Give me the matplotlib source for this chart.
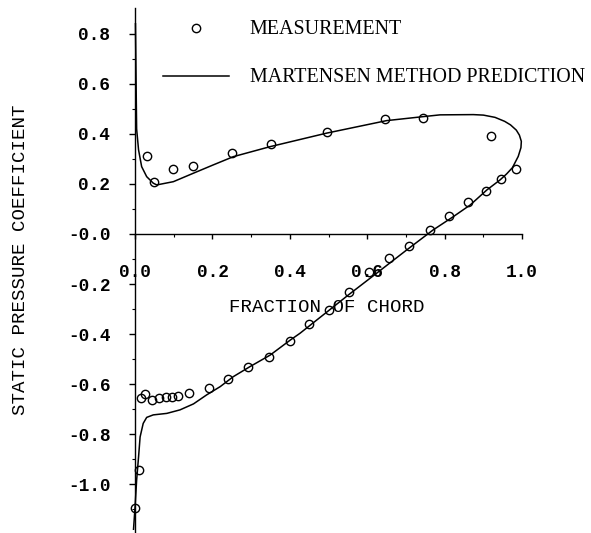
"""Static pressure coefficient vs fraction of chord, measurement and Martensen prediction."""

import numpy as np
import matplotlib
matplotlib.use("Agg")
import matplotlib.pyplot as plt
from matplotlib.ticker import FixedLocator

meas_x = [0.030, 0.049, 0.097, 0.149, 0.251, 0.351, 0.497, 0.647, 0.745, 0.919,
          0.000, 0.011, 0.016, 0.026, 0.043, 0.062, 0.080, 0.096, 0.112, 0.140,
          0.192, 0.239, 0.293, 0.345, 0.399, 0.450, 0.502, 0.554, 0.605, 0.657,
          0.708, 0.762, 0.810, 0.859, 0.907, 0.946, 0.984]
meas_y = [0.312, 0.209, 0.260, 0.272, 0.323, 0.359, 0.408, 0.460, 0.463, 0.392,
          -1.097, -0.944, -0.655, -0.640, -0.663, -0.655, -0.652, -0.650, -0.648, -0.637,
          -0.617, -0.581, -0.533, -0.490, -0.426, -0.360, -0.304, -0.233, -0.153, -0.097,
          -0.047, 0.016, 0.072, 0.129, 0.173, 0.220, 0.259]

# Martensen prediction, one path: upper surface out to the trailing edge, lower surface back
pred_x = [0.001, 0.002, 0.003, 0.004, 0.009, 0.017, 0.030, 0.047, 0.056, 0.099,
          0.151, 0.202, 0.254, 0.349, 0.495, 0.650, 0.745, 0.788, 0.874, 0.900,
          0.930, 0.955, 0.970, 0.985, 0.993, 0.998, 0.997, 0.990, 0.975, 0.960,
          0.943, 0.909, 0.866, 0.822, 0.770, 0.700, 0.624, 0.550, 0.502, 0.426,
          0.401, 0.349, 0.297, 0.254, 0.220, 0.185, 0.151, 0.116, 0.082, 0.047,
          0.030, 0.021, 0.013, 0.009, 0.004, 0.000, -0.004]
pred_y = [0.840, 0.700, 0.550, 0.420, 0.336, 0.269, 0.229, 0.203, 0.196, 0.209,
          0.243, 0.276, 0.309, 0.349, 0.403, 0.453, 0.469, 0.476, 0.477, 0.475,
          0.466, 0.450, 0.436, 0.415, 0.395, 0.370, 0.345, 0.310, 0.265, 0.240,
          0.216, 0.176, 0.116, 0.069, 0.016, -0.066, -0.157, -0.245, -0.304, -0.397,
          -0.424, -0.484, -0.530, -0.570, -0.610, -0.643, -0.679, -0.703, -0.717, -0.723,
          -0.733, -0.757, -0.811, -0.891, -0.984, -1.090, -1.180]

x_ticks = [0.0, 0.2, 0.4, 0.6, 0.8, 1.0]
x_tick_labels = ["0.0", "0.2", "0.4", "0.6", "0.8", "1.0"]
y_ticks = [0.8, 0.6, 0.4, 0.2, 0.0, -0.2, -0.4, -0.6, -0.8, -1.0]
y_tick_labels = ["0.8", "0.6", "0.4", "0.2", "-0.0", "-0.2", "-0.4", "-0.6", "-0.8", "-1.0"]

mono = "Liberation Mono"
serif = "Liberation Serif"

fig = plt.figure(figsize=(5.91, 5.33), dpi=100)
ax = fig.add_axes([0, 0, 1, 1])
ax.set_xlim(-0.349, 1.178)
ax.set_ylim(-1.195, 0.935)
ax.patch.set_visible(False)

ax.plot(meas_x, meas_y, linestyle="none", marker="o", ms=6, mfc="none",
        mec="black", mew=1.0, label="MEASUREMENT", zorder=3)
ax.plot(pred_x, pred_y, color="black", lw=1.1,
        label="MARTENSEN METHOD PREDICTION", zorder=2)

# axes crossing at the origin
for side in ["top", "right"]:
    ax.spines[side].set_visible(False)
ax.spines["left"].set_position(("data", 0))
ax.spines["bottom"].set_position(("data", 0))
ax.spines["left"].set_bounds(-1.19, 0.905)
ax.spines["bottom"].set_bounds(0.0, 1.0)
ax.spines["left"].set_linewidth(1.0)
ax.spines["bottom"].set_linewidth(1.0)

ax.set_xticks(x_ticks)
ax.set_xticklabels(x_tick_labels, family=mono, fontsize=12.8, fontweight="bold")
ax.xaxis.set_minor_locator(FixedLocator([0.1, 0.3, 0.5, 0.7, 0.9]))
ax.set_yticks(y_ticks)
ax.set_yticklabels(y_tick_labels, family=mono, fontsize=12.8, fontweight="bold")
ax.yaxis.set_minor_locator(FixedLocator([0.7, 0.5, 0.3, 0.1, -0.1, -0.3, -0.5, -0.7, -0.9, -1.1]))
ax.tick_params(axis="x", which="major", direction="out", length=3.6, width=1.0, pad=18)
ax.tick_params(axis="x", which="minor", direction="out", length=2.2, width=0.8)
ax.tick_params(axis="y", which="major", direction="out", length=4.3, width=1.0, pad=13.5)
ax.tick_params(axis="y", which="minor", direction="out", length=2.0, width=0.8)

ax.set_xlabel("FRACTION OF CHORD", family=mono, fontsize=13.8)
ax.xaxis.set_label_coords(0.496, -0.292, transform=ax.transData)
ax.set_ylabel("STATIC PRESSURE COEFFICIENT", family=mono, fontsize=13.8)
ax.yaxis.set_label_coords(-0.297, -0.104, transform=ax.transData)
ax.xaxis.label.set_va("center")
ax.yaxis.label.set_va("center")

ax.legend(loc="upper left", bbox_to_anchor=(163 / 591, 1 - 20.5 / 533),
          bbox_transform=fig.transFigure, frameon=False, borderpad=0,
          borderaxespad=0, handlelength=3.3, handletextpad=1.03,
          labelspacing=1.45, numpoints=1, prop={"family": serif, "size": 14.4})

plt.savefig("out.png", dpi=100)
plt.close()
